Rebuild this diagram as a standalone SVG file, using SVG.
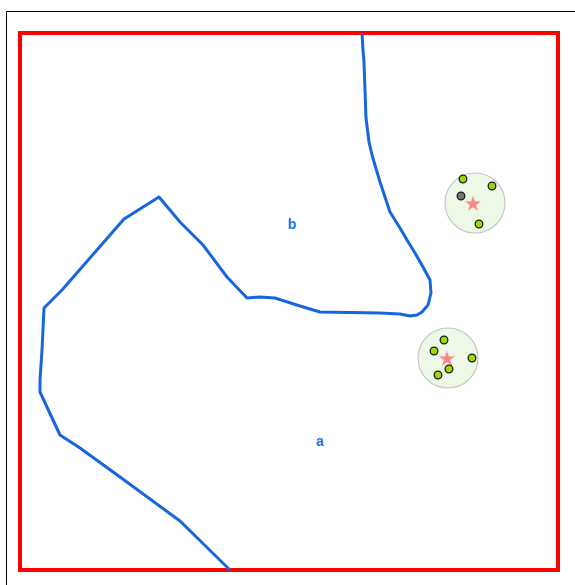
<svg xmlns="http://www.w3.org/2000/svg" width="575" height="585" viewBox="0 0 575 585">
<style>
.lbl{font-family:"Liberation Sans",Arial,sans-serif;font-size:14px;font-weight:bold;fill:#1a73e8;text-anchor:middle}
.zone{fill:#eef8e6;stroke:#c8c8c8;stroke-width:1.2}
.pt{stroke:#1a1a1a;stroke-width:1.3;fill:#99dd00}
.pt.g{fill:#777}
.star{fill:#f58a8a;stroke:#f7b0b0;stroke-width:0.5}
</style>
<defs>
<polygon id="star" class="star" points="0,-8 1.9,-2.6 7.6,-2.5 3.1,1 4.7,6.5 0,3.3 -4.7,6.5 -3.1,1 -7.6,-2.5 -1.9,-2.6"/>
</defs>
<rect width="575" height="585" fill="#fff"/>
<path d="M6.5,585 V11.5 H575" fill="none" stroke="#000" stroke-width="1"/>
<g id="boundary">
<rect x="20" y="33" width="538" height="537" fill="none" stroke="#ff0000" stroke-width="4"/>
</g>
<g id="connectors">
<polyline fill="none" stroke="#1766e0" stroke-width="3" stroke-linejoin="round" points="362,33 363,50 364,62 365,90 366,118 369,142 372,155 380,182 390,212 400,228 407,240 415,253 423,267 430,280 431,293 428,305 422,312 417,315 410,316 400,314 380,313 320,312 300,306 275,298 260,297 247,298 227,277 203,245 180,222 159,197 124,219 62,290 44,308 42,350 40,380 40,392 60,435 80,448 120,477 180,521 230,570"/>
</g>
<g id="region-b"><text class="lbl" x="292" y="229">b</text></g>
<g id="region-a"><text class="lbl" x="320" y="446">a</text></g>
<g id="cluster1">
<circle class="zone" cx="475" cy="203" r="30"/>
<use href="#star" x="473" y="204"/>
<circle class="pt" cx="463" cy="179" r="3.8"/>
<circle class="pt" cx="492" cy="186" r="3.8"/>
<circle class="pt g" cx="461" cy="196" r="3.8"/>
<circle class="pt" cx="479" cy="224" r="3.8"/>
</g>
<g id="cluster2">
<circle class="zone" cx="448" cy="358" r="30"/>
<use href="#star" x="447" y="359"/>
<circle class="pt" cx="444" cy="340" r="3.8"/>
<circle class="pt" cx="434" cy="351" r="3.8"/>
<circle class="pt" cx="472" cy="358" r="3.8"/>
<circle class="pt" cx="449" cy="369" r="3.8"/>
<circle class="pt" cx="438" cy="375" r="3.8"/>
</g>
</svg>
